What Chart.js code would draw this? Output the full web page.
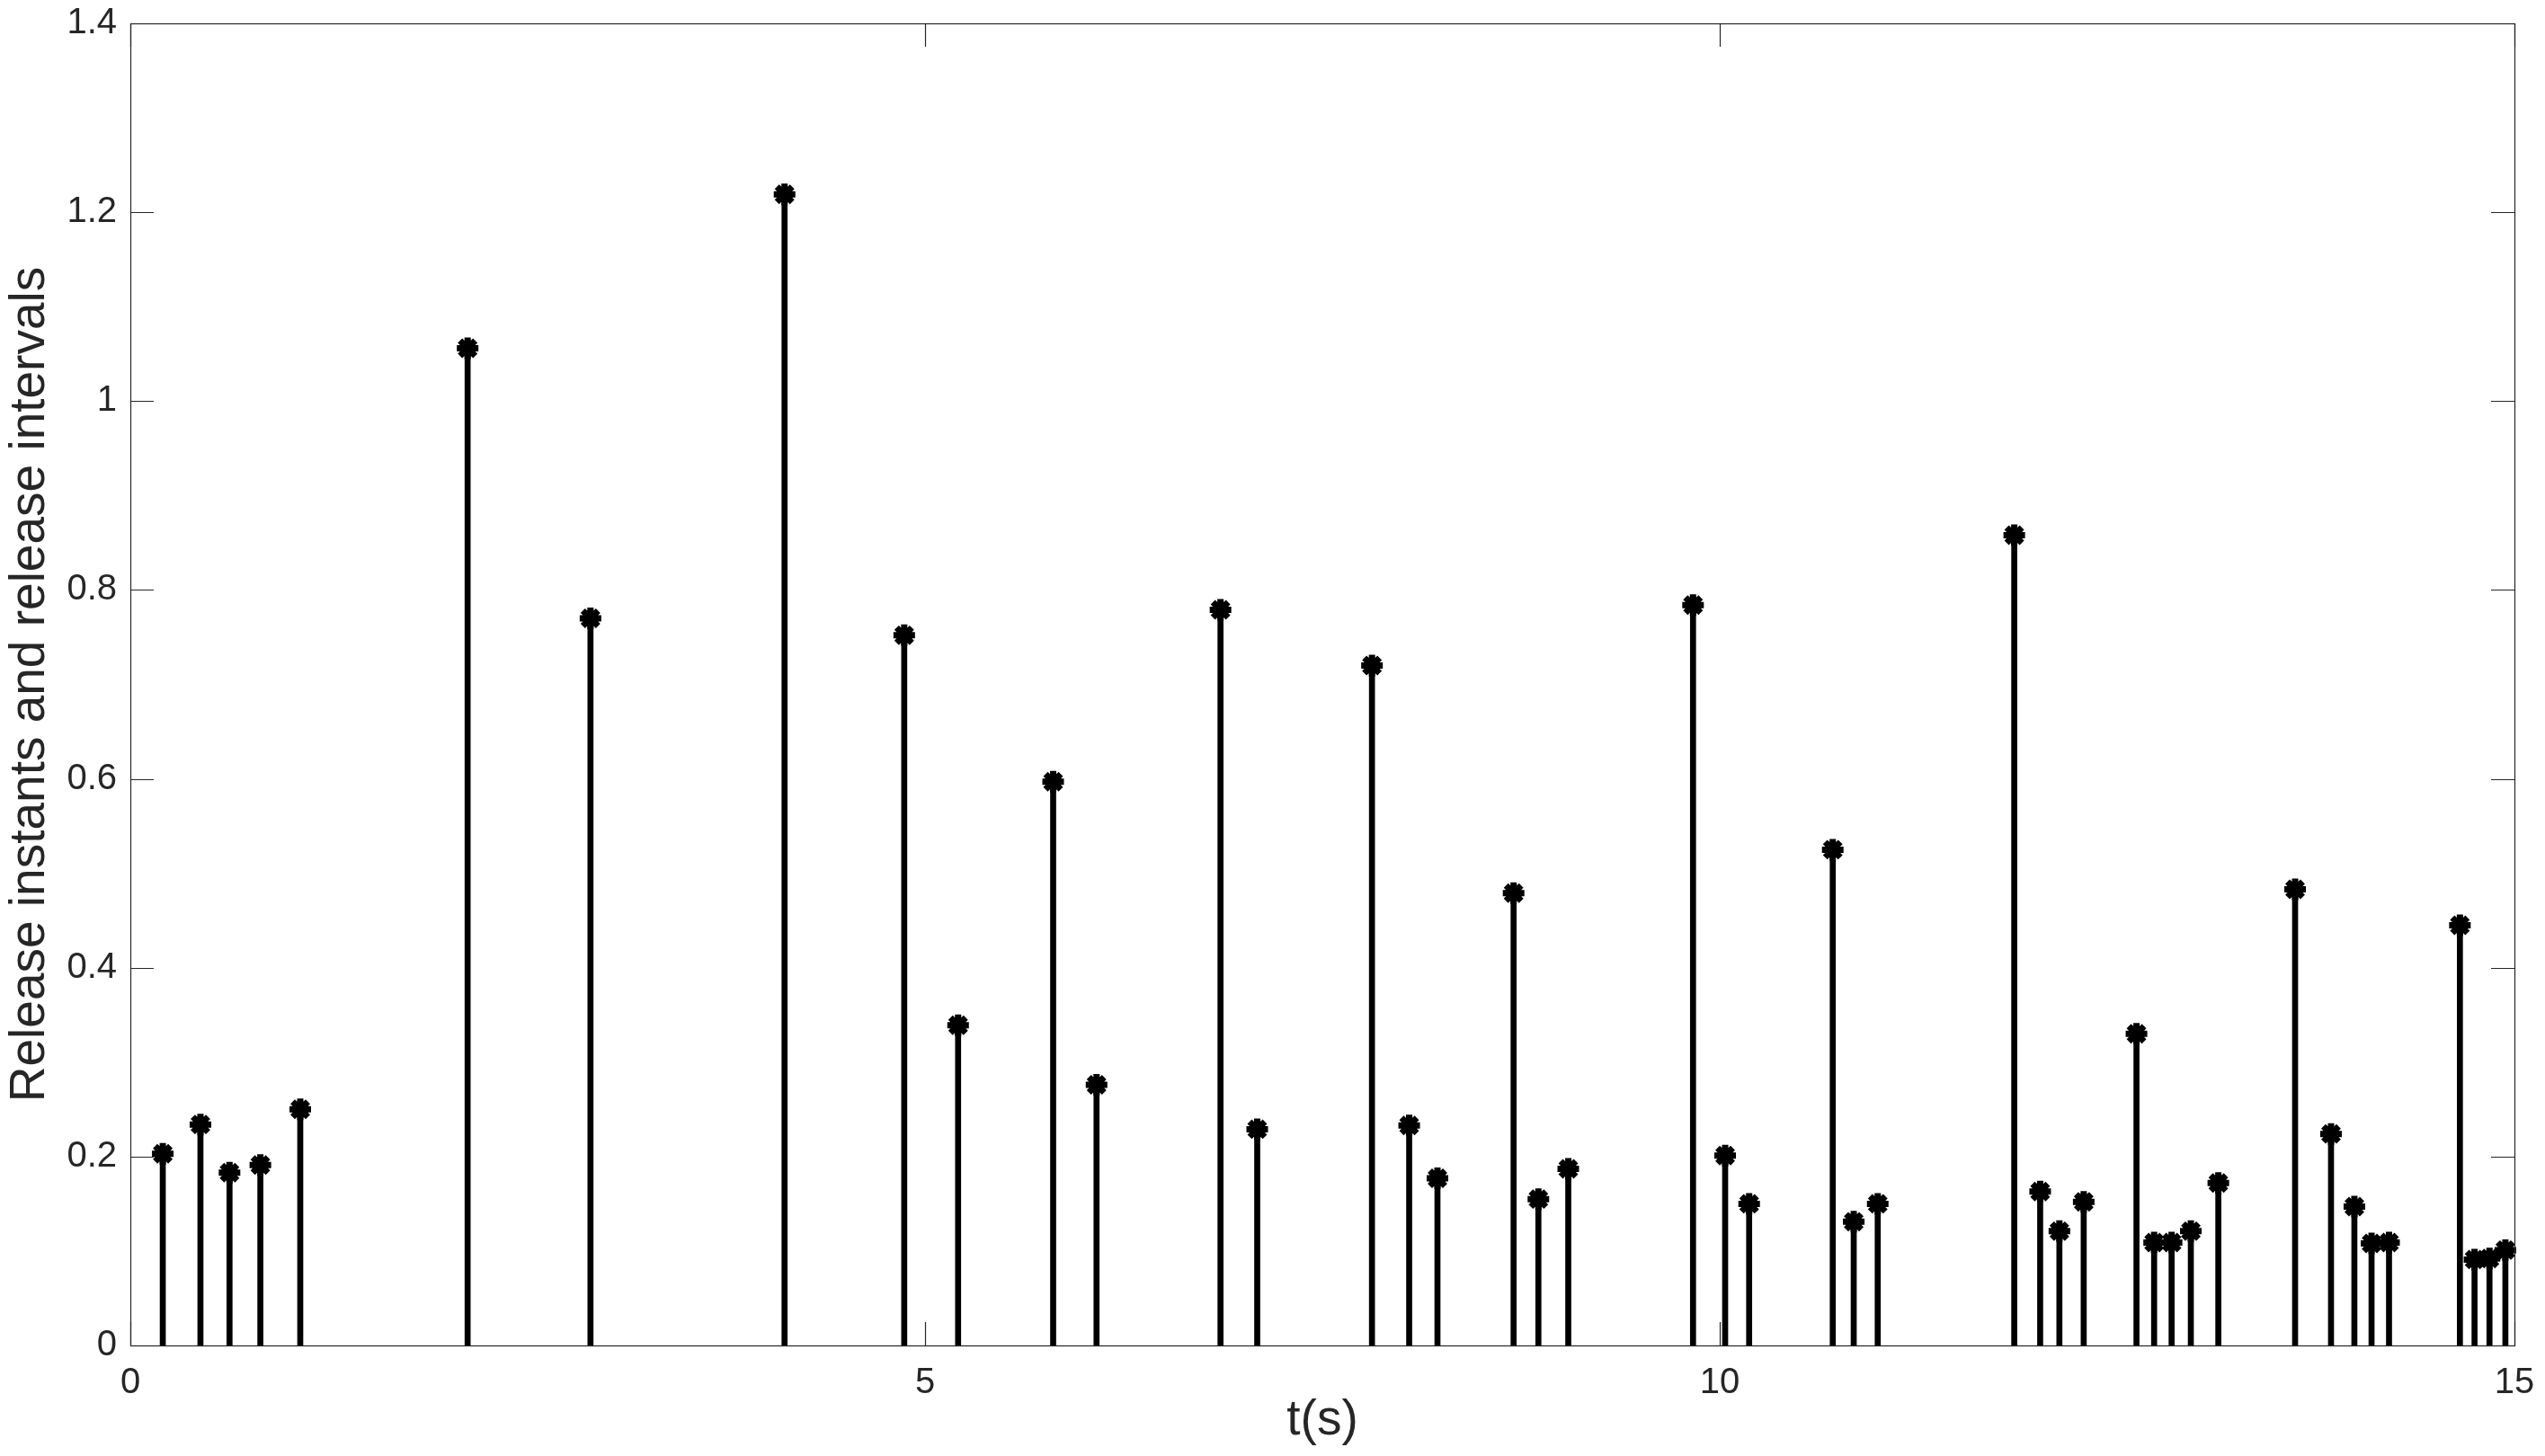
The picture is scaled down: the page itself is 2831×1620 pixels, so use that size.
<!DOCTYPE html>
<html>
<head>
<meta charset="utf-8">
<script src="https://cdn.jsdelivr.net/npm/chart.js@4.4.1/dist/chart.umd.min.js"></script>
<style>
  html, body { margin: 0; padding: 0; background: #fff; }
  #wrap { width: 2831px; height: 1620px; }
</style>
</head>
<body>
<div id="wrap"><canvas id="stemChart" width="2831" height="1620"></canvas></div>
<script>
// release instants (s)
const releaseTimes = [
  0.204, 0.441, 0.624, 0.818, 1.069, 2.122, 2.895, 4.116, 4.869, 5.208,
  5.806, 6.079, 6.859, 7.090, 7.812, 8.046, 8.224, 8.703, 8.859, 9.047,
  9.832, 10.034, 10.185, 10.711, 10.843, 10.994, 11.853, 12.016, 12.137, 12.290,
  12.622, 12.733, 12.843, 12.964, 13.137, 13.620, 13.846, 13.993, 14.101, 14.211,
  14.657, 14.749, 14.843, 14.943
];
// release intervals (s)
const releaseIntervals = [
  0.203, 0.234, 0.183, 0.191, 0.250, 1.056, 0.770, 1.219, 0.752, 0.339,
  0.597, 0.276, 0.779, 0.229, 0.720, 0.233, 0.177, 0.479, 0.155, 0.187,
  0.784, 0.201, 0.150, 0.525, 0.131, 0.150, 0.858, 0.163, 0.121, 0.152,
  0.330, 0.109, 0.109, 0.121, 0.172, 0.483, 0.224, 0.147, 0.108, 0.109,
  0.445, 0.091, 0.092, 0.101
];
const xTickLabels = ['0', '5', '10', '15'];
const yTickLabels = ['0', '0.2', '0.4', '0.6', '0.8', '1', '1.2', '1.4'];

const AXIS_COLOR = '#262626';
const TICK_LEN = 26;

const points = releaseTimes.map((t, i) => ({ x: t, y: releaseIntervals[i] }));

// box round the axes with inward ticks on all four sides
const boxPlugin = {
  id: 'matlabBox',
  afterDraw(chart) {
    const { ctx, chartArea: a, scales: { x, y } } = chart;
    ctx.save();
    ctx.strokeStyle = AXIS_COLOR;
    ctx.lineWidth = 1.2;
    ctx.beginPath();
    x.ticks.forEach(t => {
      const px = Math.round(x.getPixelForValue(t.value)) + 0.5;
      ctx.moveTo(px, a.bottom); ctx.lineTo(px, a.bottom - TICK_LEN);
      ctx.moveTo(px, a.top); ctx.lineTo(px, a.top + TICK_LEN);
    });
    y.ticks.forEach(t => {
      const py = Math.round(y.getPixelForValue(t.value)) + 0.5;
      ctx.moveTo(a.left, py); ctx.lineTo(a.left + TICK_LEN, py);
      ctx.moveTo(a.right, py); ctx.lineTo(a.right - TICK_LEN, py);
    });
    ctx.stroke();
    ctx.strokeRect(a.left + 0.5, a.top + 0.5, a.right - a.left, a.bottom - a.top);
    ctx.restore();
  }
};

Chart.defaults.font.family = '"Liberation Sans", Arial, Helvetica, sans-serif';
Chart.defaults.color = AXIS_COLOR;

new Chart(document.getElementById('stemChart'), {
  type: 'bar',
  data: {
    datasets: [
      {
        type: 'scatter',
        data: points,
        pointStyle: 'star',
        pointRadius: 12,
        pointHoverRadius: 12,
        pointBorderWidth: 7,
        borderColor: '#000',
        backgroundColor: '#000',
        clip: false,
        order: 0
      },
      {
        type: 'bar',
        data: points,
        backgroundColor: '#000',
        barThickness: 6,
        order: 1
      }
    ]
  },
  options: {
    responsive: false,
    animation: false,
    devicePixelRatio: 1,
    layout: { autoPadding: false, padding: { left: 0, top: 26, right: 34, bottom: 0 } },
    plugins: { legend: { display: false }, tooltip: { enabled: false } },
    scales: {
      x: {
        type: 'linear',
        min: 0, max: 15,
        offset: false,
        grid: { display: false, drawTicks: false },
        border: { display: false },
        ticks: {
          stepSize: 5, padding: 18, maxRotation: 0, autoSkip: false,
          color: AXIS_COLOR, font: { size: 40 },
          callback: (v, i) => xTickLabels[i]
        },
        title: {
          display: true, text: 't(s)', color: AXIS_COLOR,
          font: { size: 55 }, padding: { top: 0, bottom: 6 }
        },
        afterFit: s => { s.height = 123; s.paddingLeft = 0; s.paddingRight = 0; }
      },
      y: {
        type: 'linear',
        min: 0, max: 1.4,
        grid: { display: false, drawTicks: false },
        border: { display: false },
        ticks: {
          stepSize: 0.2, padding: 15,
          color: AXIS_COLOR, font: { size: 40 },
          callback: (v, i) => yTickLabels[i]
        },
        title: {
          display: true, text: 'Release instants and release intervals', color: AXIS_COLOR,
          font: { size: 55 }, padding: { top: 1, bottom: 0 }
        },
        afterFit: s => { s.width = 145; s.paddingTop = 0; s.paddingBottom = 0; }
      }
    }
  },
  plugins: [boxPlugin]
});
</script>
</body>
</html>
